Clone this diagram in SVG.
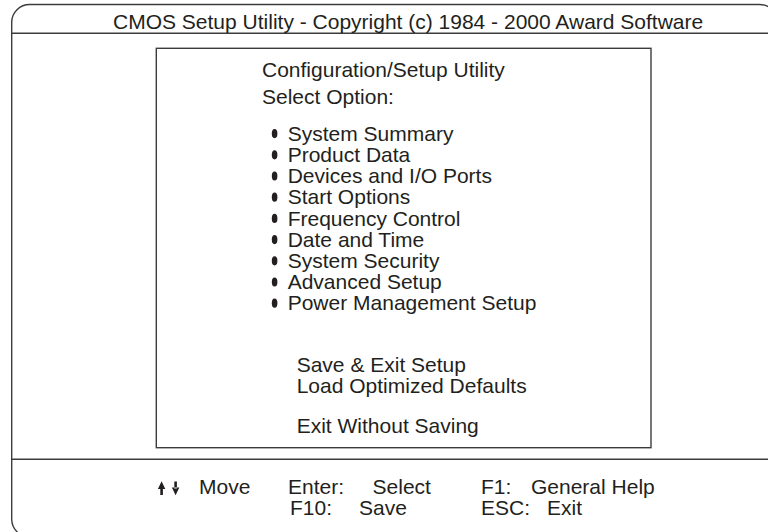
<svg xmlns="http://www.w3.org/2000/svg" width="768" height="532" viewBox="0 0 768 532">
<style>
text{font-family:"Liberation Sans",Arial,sans-serif;font-size:21px;fill:#231f20}
.ln{fill:none;stroke:#3c3c3c;stroke-width:1.4}
.bul{fill:#231f20}
.arr{fill:#231f20}
</style>
<rect width="768" height="532" fill="#fff"/>
<g id="frame">
<rect class="ln" x="11.7" y="4.5" width="766" height="532.5" rx="18" ry="18"/>
<line class="ln" x1="11.7" y1="33.3" x2="768" y2="33.3"/>
<line class="ln" x1="11.7" y1="459.3" x2="768" y2="459.3"/>
<text x="113" y="29">CMOS Setup Utility - Copyright (c) 1984 - 2000 Award Software</text>
</g>
<g id="menu">
<rect class="ln" x="156.3" y="48.3" width="494.7" height="399.4"/>
<text x="262" y="77">Configuration/Setup Utility</text>
<text x="262" y="104">Select Option:</text>
<g id="items">
<ellipse class="bul" cx="274.6" cy="133.6" rx="2.8" ry="4.6"/><text x="287.7" y="140.7">System Summary</text>
<ellipse class="bul" cx="274.6" cy="154.8" rx="2.8" ry="4.6"/><text x="287.7" y="161.9">Product Data</text>
<ellipse class="bul" cx="274.6" cy="176" rx="2.8" ry="4.6"/><text x="287.7" y="183.1">Devices and I/O Ports</text>
<ellipse class="bul" cx="274.6" cy="197.2" rx="2.8" ry="4.6"/><text x="287.7" y="204.3">Start Options</text>
<ellipse class="bul" cx="274.6" cy="218.4" rx="2.8" ry="4.6"/><text x="287.7" y="225.5">Frequency Control</text>
<ellipse class="bul" cx="274.6" cy="239.6" rx="2.8" ry="4.6"/><text x="287.7" y="246.7">Date and Time</text>
<ellipse class="bul" cx="274.6" cy="260.8" rx="2.8" ry="4.6"/><text x="287.7" y="267.9">System Security</text>
<ellipse class="bul" cx="274.6" cy="282" rx="2.8" ry="4.6"/><text x="287.7" y="289.1">Advanced Setup</text>
<ellipse class="bul" cx="274.6" cy="303.2" rx="2.8" ry="4.6"/><text x="287.7" y="310.3">Power Management Setup</text>
</g>
<text x="296.7" y="372">Save &amp; Exit Setup</text>
<text x="296.7" y="393.2">Load Optimized Defaults</text>
<text x="296.7" y="433">Exit Without Saving</text>
</g>
<g id="footer">
<g id="move-arrows">
<path class="arr" d="M160.3,488 h2.6 v7 h-2.6 Z M157.9,489 L161.6,481.3 L165.3,489 Z"/>
<path class="arr" d="M174.3,481.5 h2.6 v7 h-2.6 Z M171.9,487.5 L175.6,495.2 L179.3,487.5 Z"/>
</g>
<text x="199" y="493.8">Move</text>
<text x="288" y="493.8">Enter:</text>
<text x="372.6" y="493.8">Select</text>
<text x="290" y="515">F10:</text>
<text x="359" y="515">Save</text>
<text x="481" y="493.8">F1:</text>
<text x="531" y="493.8">General Help</text>
<text x="481" y="515">ESC:</text>
<text x="547" y="515">Exit</text>
</g>
</svg>
